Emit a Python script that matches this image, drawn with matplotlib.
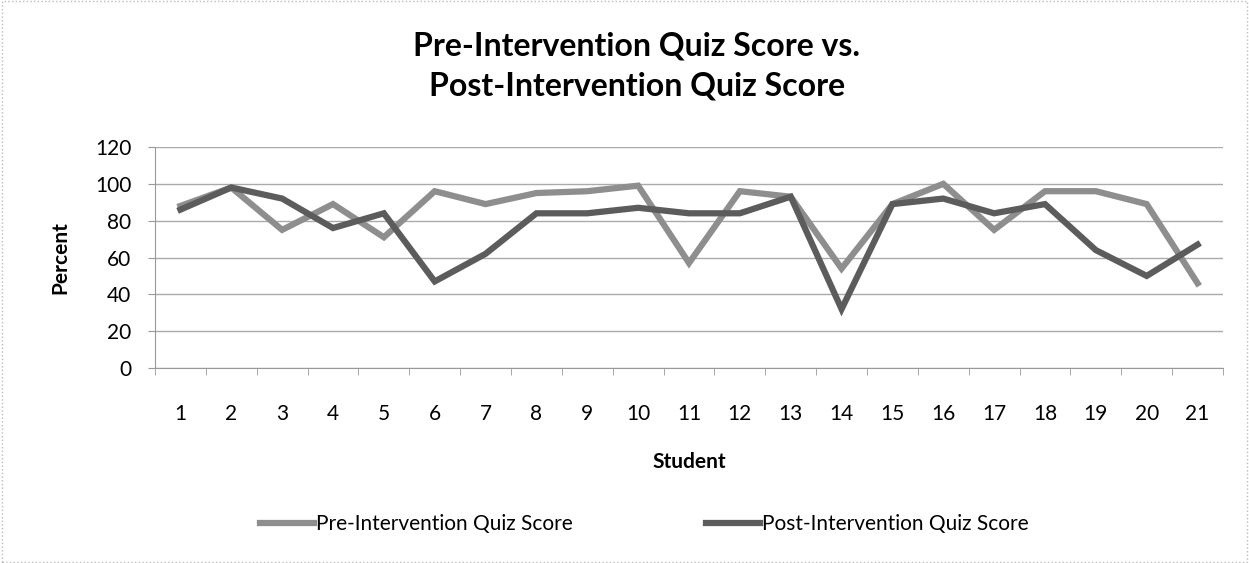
import numpy as np
import matplotlib.pyplot as plt
from matplotlib.ticker import FixedLocator

plt.rcParams['font.family'] = ['Lato', 'DejaVu Sans']

students = list(range(1, 22))
pre_scores = [88, 98, 75, 89, 71, 96, 89, 95, 96, 99, 57, 96, 93, 54, 89, 100, 75, 96, 96, 89, 46]
post_scores = [86, 98, 92, 76, 84, 47, 62, 84, 84, 87, 84, 84, 93, 32, 89, 92, 84, 89, 64, 50, 67]

fig = plt.figure(figsize=(12.49, 5.63), dpi=100)
ax = fig.add_axes([155 / 1249, 1 - 368 / 563, (1223 - 155) / 1249, (368 - 147) / 563])

ax.plot(students, pre_scores, color='#8e8e8e', linewidth=4.5, label='Pre-Intervention Quiz Score',
        solid_joinstyle='miter')
ax.plot(students, post_scores, color='#5c5c5c', linewidth=4.5, label='Post-Intervention Quiz Score',
        solid_joinstyle='miter')

ax.set_xlim(0.5, 21.5)
ax.set_ylim(0, 120)
ax.set_yticks(range(0, 121, 20))
ax.set_xticks(students)
ax.xaxis.set_minor_locator(FixedLocator(np.arange(0.5, 21.6, 1)))
ax.tick_params(axis='x', which='major', length=0, pad=26, labelsize=15)
ax.tick_params(axis='x', which='minor', length=5, color='#999999')
ax.tick_params(axis='y', length=5, color='#999999', labelsize=15, pad=12)
ax.grid(axis='y', color='#aaaaaa', linewidth=1)
ax.set_axisbelow(True)
for s in ['top', 'right']:
    ax.spines[s].set_visible(False)
for s in ['left', 'bottom']:
    ax.spines[s].set_color('#999999')

ax.set_xlabel('Student', fontsize=15, fontweight='bold', labelpad=20)
ax.set_ylabel('Percent', fontsize=15, fontweight='bold', labelpad=18)

fig.text(0.510, 1 - 66 / 563, 'Pre-Intervention Quiz Score vs.\nPost-Intervention Quiz Score',
         ha='center', va='center', fontsize=23, fontweight='bold', linespacing=1.45)

fig.legend(loc='center', bbox_to_anchor=(0.516, 1 - 524 / 563), ncol=2, frameon=False,
           fontsize=15, handlelength=2.6, handletextpad=0.1, columnspacing=6.4)

fig.patches.append(plt.Rectangle((0.002, 0.002), 0.996, 0.996, transform=fig.transFigure,
                                 fill=False, edgecolor='#bbbbbb', linewidth=1, linestyle=':'))

fig.savefig('out.png', dpi=100)
